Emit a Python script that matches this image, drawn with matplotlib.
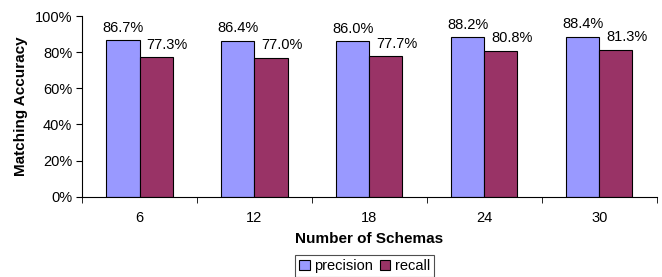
import numpy as np
import matplotlib.pyplot as plt

schemas = ["6", "12", "18", "24", "30"]
precision = [86.7, 86.4, 86.0, 88.2, 88.4]
recall = [77.3, 77.0, 77.7, 80.8, 81.3]

PREC_COLOR = "#9999FF"
REC_COLOR = "#993366"

plt.rcParams["font.family"] = ["Liberation Sans", "DejaVu Sans"]
plt.rcParams["font.size"] = 10.5

fig = plt.figure(figsize=(6.62, 2.77), dpi=100)
ax = fig.add_axes([0.124, 0.290, 0.868, 0.652])

x = np.arange(len(schemas))
w = 0.288
b1 = ax.bar(x - w / 2, precision, w, color=PREC_COLOR, edgecolor="black", linewidth=0.8, label="precision")
b2 = ax.bar(x + w / 2, recall, w, color=REC_COLOR, edgecolor="black", linewidth=0.8, label="recall")

for rect, v in zip(b1, precision):
    ax.annotate(f"{v:.1f}%", (rect.get_x() + rect.get_width() / 2, v),
                xytext=(0, 4), textcoords="offset points", ha="center", va="bottom")
for rect, v in zip(b2, recall):
    ax.annotate(f"{v:.1f}%", (rect.get_x() + rect.get_width() / 2, v),
                xytext=(8, 4), textcoords="offset points", ha="center", va="bottom")

ax.set_xlim(-0.5, len(schemas) - 0.5)
ax.set_ylim(0, 100)
ax.set_yticks(range(0, 101, 20))
ax.set_yticklabels([f"{t}%" for t in range(0, 101, 20)])

# category labels centered, tick marks at boundaries
ax.set_xticks(x)
ax.set_xticklabels(schemas)
ax.tick_params(axis="x", which="major", length=0, pad=10)
ax.set_xticks(np.arange(-0.5, len(schemas)), minor=True)
ax.tick_params(axis="x", which="minor", length=4, direction="out")
ax.tick_params(axis="y", length=4, direction="out", pad=3)

for s in ["top", "right"]:
    ax.spines[s].set_visible(False)

ax.set_xlabel("Number of Schemas", fontweight="bold", fontsize=11, labelpad=5)
ax.set_ylabel("Matching Accuracy", fontweight="bold", fontsize=11, labelpad=5)

leg = fig.legend(loc="lower center", bbox_to_anchor=(0.551, -0.028), ncol=2, frameon=True,
                 fancybox=False, edgecolor="#222222", handlelength=0.7, handleheight=0.7,
                 handletextpad=0.3, columnspacing=0.5, borderpad=0.3)
leg.get_frame().set_linewidth(0.8)

fig.savefig("out.png", dpi=100)
